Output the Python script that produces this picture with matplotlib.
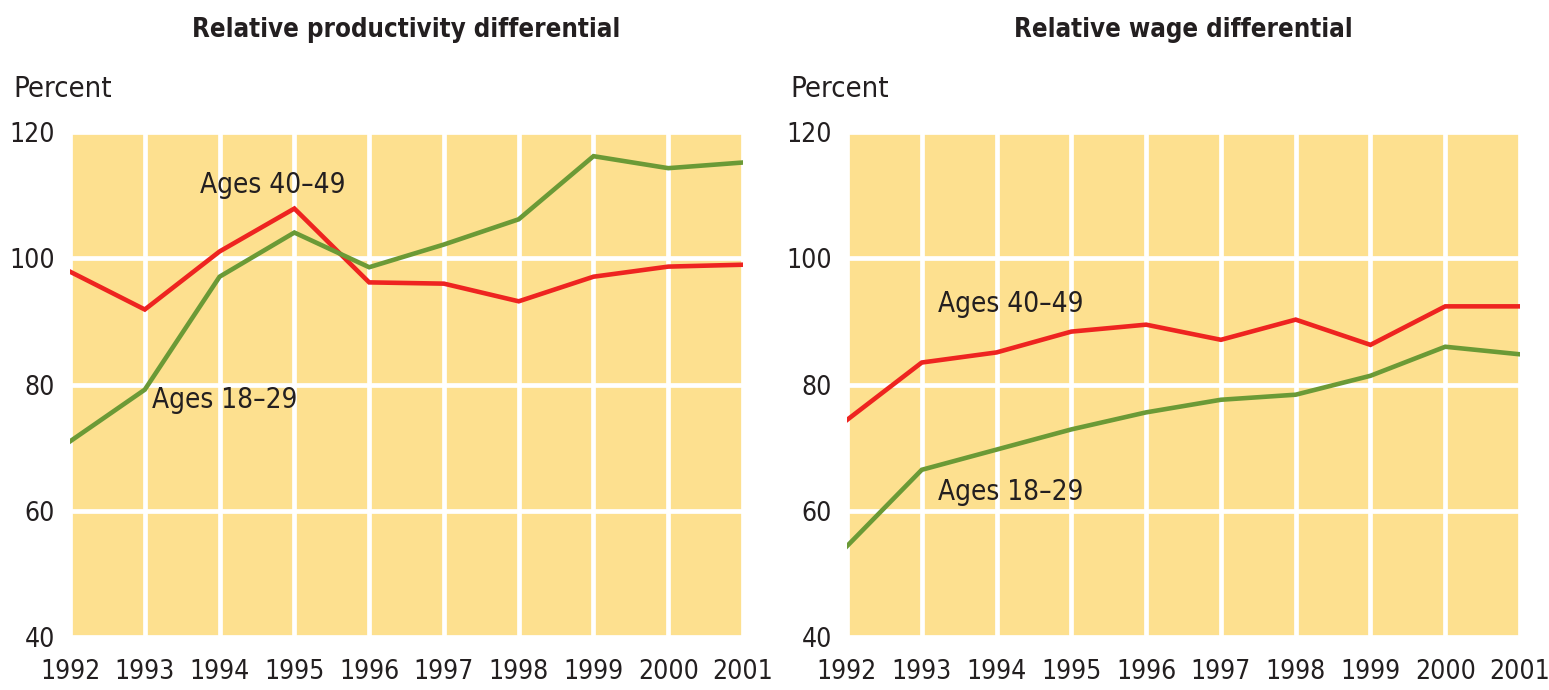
import matplotlib
matplotlib.use("Agg")
import matplotlib.pyplot as plt
from matplotlib import font_manager

# the original uses a condensed sans; take a condensed face if one is installed
cond = [(f.name, f.stretch) for f in font_manager.fontManager.ttflist
        if f.stretch in ('condensed', 'semi-condensed', 'extra-condensed')
        or 'Condensed' in f.name or 'Narrow' in f.name]
if cond:
    plt.rcParams['font.family'] = [cond[0][0], 'DejaVu Sans']
    plt.rcParams['font.stretch'] = 'condensed'
else:
    plt.rcParams['font.family'] = ['Roboto', 'DejaVu Sans']
FS = 19

years = [1992, 1993, 1994, 1995, 1996, 1997, 1998, 1999, 2000, 2001]

# relative productivity differential, percent
prod_40_49 = [97.9, 91.9, 101.1, 107.9, 96.2, 96.0, 93.2, 97.1, 98.7, 99.0]
prod_18_29 = [71.0, 79.2, 97.1, 104.1, 98.6, 102.2, 106.2, 116.2, 114.3, 115.2]

# relative wage differential, percent
wage_40_49 = [74.4, 83.5, 85.1, 88.4, 89.5, 87.1, 90.3, 86.3, 92.4, 92.4]
wage_18_29 = [54.4, 66.5, 69.7, 72.9, 75.6, 77.6, 78.4, 81.4, 86.0, 84.8]

yticks = [40, 60, 80, 100, 120]

FILL = '#FDE08F'
RED = '#EE2420'
GREEN = '#6B9A36'
TXT = '#231F20'

fig = plt.figure(figsize=(15.49, 6.9), dpi=100)

panels = [
    (0.0452, "Relative productivity differential", prod_40_49, prod_18_29,
     (1994.71, 111.7), (1994.07, 77.6)),
    (0.5468, "Relative wage differential", wage_40_49, wage_18_29,
     (1994.19, 92.7), (1994.19, 63.0)),
]

for left, title, old, young, pos_old, pos_young in panels:
    ax = fig.add_axes([left, 0.0768, 0.4345, 0.7316])
    ax.set_facecolor(FILL)
    for s in ax.spines.values():
        s.set_visible(False)
    ax.set_xlim(years[0], years[-1])
    ax.set_ylim(40, 120)
    ax.set_xticks(years)
    ax.set_yticks(yticks)
    ax.grid(True, color='white', linewidth=3.4)
    ax.set_axisbelow(True)
    ax.tick_params(length=0, labelsize=FS, colors=TXT)
    ax.tick_params(axis='x', pad=16)
    ax.tick_params(axis='y', pad=11)
    ax.plot(years, old, color=RED, linewidth=3.3, solid_joinstyle='miter')
    ax.plot(years, young, color=GREEN, linewidth=3.3, solid_joinstyle='miter')
    ax.text(pos_old[0], pos_old[1], "Ages 40\u201349", fontsize=20, color=TXT,
            ha='center', va='center')
    ax.text(pos_young[0], pos_young[1], "Ages 18\u201329", fontsize=20, color=TXT,
            ha='center', va='center')
    ax.text(0.5, 1.0 + 102 / 505, title, transform=ax.transAxes, fontsize=18.5,
            fontweight='bold', ha='center', va='center', color=TXT)
    fig.text(left - 57 / 1549, 1 - 89 / 690, "Percent", fontsize=21, color=TXT,
             ha='left', va='center')

fig.savefig("out.png", dpi=100)
